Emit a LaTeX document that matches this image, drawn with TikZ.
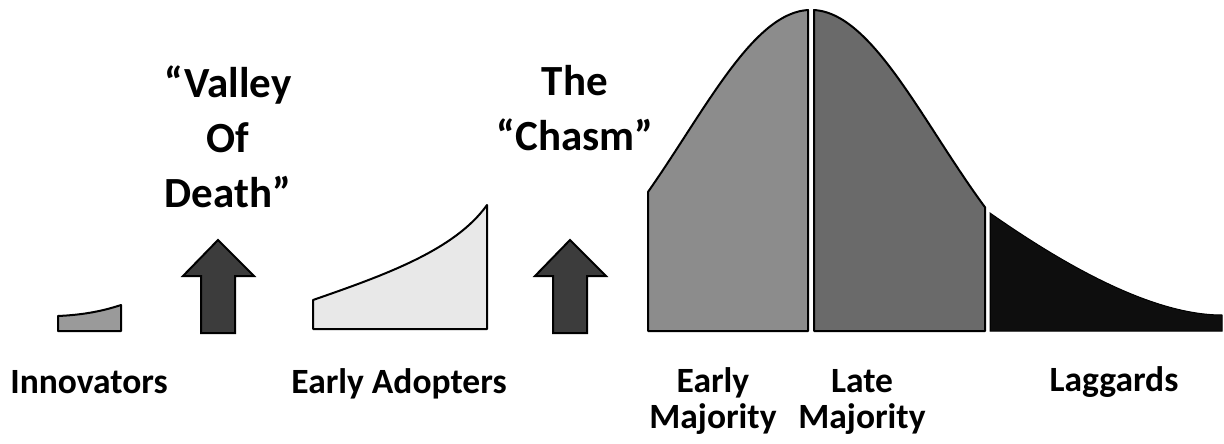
\documentclass[tikz,border=0pt]{standalone}
\usepackage{fontspec}
\setmainfont{Carlito}
\begin{document}
\begin{tikzpicture}[x=1pt,y=-1pt,
  outl/.style={draw=black,line width=2pt,line join=round},
  uparr/.style={draw=black,line width=2pt,line join=miter,fill=arrowgray},
  title/.style={font=\fontsize{43}{55}\selectfont\bfseries,align=center,anchor=base,inner sep=0pt},
  lbl/.style={font=\fontsize{35.5}{36}\selectfont\bfseries,align=center,anchor=base,inner sep=0pt}]
\definecolor{arrowgray}{HTML}{3C3C3C}
\definecolor{innogray}{HTML}{9A9A9A}
\definecolor{adoptgray}{HTML}{E8E8E8}
\definecolor{earlygray}{HTML}{8C8C8C}
\definecolor{lategray}{HTML}{6A6A6A}
\definecolor{laggray}{HTML}{0E0E0E}
\useasboundingbox (0,0) rectangle (1224,444);
% Innovators
\draw[outl,fill=innogray] (58,331) -- (58,316) .. controls (80,315) and (100,312) .. (121,305) -- (121,331) -- cycle;
% arrow 1
\draw[uparr] (201,333) -- (201,276) -- (183,276) -- (218,240) -- (254,276) -- (235,276) -- (235,333) -- cycle;
% Early adopters
\draw[outl,fill=adoptgray] (313,329) -- (313,300) .. controls (385,275) and (455,250) .. (487,205) -- (487,329) -- cycle;
% arrow 2
\draw[uparr] (553,333) -- (553,276) -- (535,276) -- (570,240) -- (606,276) -- (587,276) -- (587,333) -- cycle;
% Early majority
\draw[outl,fill=earlygray] (648,331) -- plot[domain=648:808,samples=60] (\x,{331-321*exp(-0.5*((\x-811)/126)^2)}) -- (808,331) -- cycle;
% Late majority
\draw[outl,fill=lategray] (814,331) -- plot[domain=814:985,samples=60] (\x,{331-321*exp(-0.5*((\x-811)/126)^2)}) -- (985,331) -- cycle;
% Laggards
\draw[draw=black,line width=1pt,fill=laggray] (990,331) -- (990,213) .. controls (1060,262) and (1150,315) .. (1222,315) -- (1222,331) -- cycle;
% titles
\node[title] (valley) at (228,207) {“Valley\\Of\\Death”};
\node[title] (chasm) at (575,150) {The\\“Chasm”};
% labels
\node[lbl] (inno) at (89,393) {Innovators};
\node[lbl] (adopt) at (399,393) {Early Adopters};
\node[lbl] (early) at (713,428) {Early\\Majority};
\node[lbl] (late) at (862,428) {Late\\Majority};
\node[lbl] (lagg) at (1114,391) {Laggards};
\end{tikzpicture}
\end{document}
